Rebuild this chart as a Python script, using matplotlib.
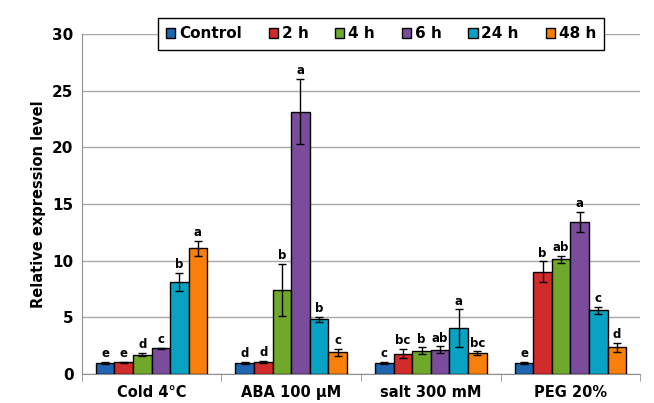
import numpy as np
import matplotlib.pyplot as plt
from matplotlib.ticker import FixedLocator

categories = ['Cold 4°C', 'ABA 100 µM', 'salt 300 mM', 'PEG 20%']
series = ['Control', '2 h', '4 h', '6 h', '24 h', '48 h']
colors = ['#1f66b0', '#d12b2b', '#6fa82b', '#7b4b9c', '#0aa2c2', '#f77f0a']

values = [
    [1.0, 1.0, 1.0, 1.0],      # Control
    [1.02, 1.05, 1.8, 9.03],   # 2 h
    [1.7, 7.41, 2.05, 10.12],  # 4 h
    [2.25, 23.15, 2.15, 13.39],  # 6 h
    [8.09, 4.83, 4.06, 5.62],  # 24 h
    [11.09, 1.91, 1.85, 2.37],  # 48 h
]
errors = [
    [0.08, 0.08, 0.08, 0.08],
    [0.06, 0.08, 0.4, 0.9],
    [0.15, 2.32, 0.3, 0.3],
    [0.06, 2.9, 0.3, 0.9],
    [0.8, 0.22, 1.65, 0.3],
    [0.67, 0.3, 0.15, 0.4],
]
letters = [
    ['e', 'd', 'c', 'e'],
    ['e', 'd', 'bc', 'b'],
    ['d', 'b', 'b', 'ab'],
    ['c', 'a', 'ab', 'a'],
    ['b', 'b', 'a', 'c'],
    ['a', 'c', 'bc', 'd'],
]

fig = plt.figure(figsize=(6.54, 4.03), dpi=100)
ax = fig.add_axes([0.125, 0.072, 0.854, 0.844])

x = np.arange(len(categories))
w = 0.133
for i, name in enumerate(series):
    pos = x + (i - 2.5) * w
    ax.bar(pos, values[i], w, color=colors[i], edgecolor='black', linewidth=1.0,
           label=name, zorder=3)
    ax.errorbar(pos, values[i], yerr=errors[i], fmt='none', ecolor='black',
                elinewidth=1.0, capsize=3, capthick=1.0, zorder=4)
    for j in range(len(categories)):
        ax.text(pos[j], values[i][j] + errors[i][j] + 0.15, letters[i][j],
                ha='center', va='bottom', fontsize=8.5, fontweight='bold', zorder=5)

ax.set_xlim(-0.5, len(categories) - 0.5)
ax.set_ylim(0, 30)
ax.set_yticks(range(0, 31, 5))
ax.yaxis.grid(True, color='#a8a8a8', linewidth=1.0, zorder=0)
ax.set_axisbelow(True)

ax.set_xticks(x)
ax.set_xticklabels(categories, fontsize=10.5, fontweight='bold')
ax.tick_params(axis='x', length=0, pad=8)
ax.xaxis.set_minor_locator(FixedLocator(np.arange(-0.5, len(categories), 1.0)))
ax.tick_params(axis='x', which='minor', length=5, color='#909090')
ax.tick_params(axis='y', length=0, labelsize=11, pad=6)
for lab in ax.get_yticklabels():
    lab.set_fontweight('bold')

ax.set_ylabel('Relative expression level', fontsize=10.5, fontweight='bold')

for s in ['top', 'right']:
    ax.spines[s].set_visible(False)
ax.spines['left'].set_color('#909090')
ax.spines['bottom'].set_color('#909090')

leg = ax.legend(loc='center', bbox_to_anchor=(0.536, 1.0), ncol=6, frameon=True,
                fancybox=False, edgecolor='black', fontsize=11, handlelength=0.6,
                handleheight=0.6, handletextpad=0.25, columnspacing=1.75,
                borderpad=0.55, borderaxespad=0, framealpha=1.0)
leg.get_frame().set_linewidth(1.0)
for t in leg.get_texts():
    t.set_fontweight('bold')

fig.savefig('out.png', dpi=100)
